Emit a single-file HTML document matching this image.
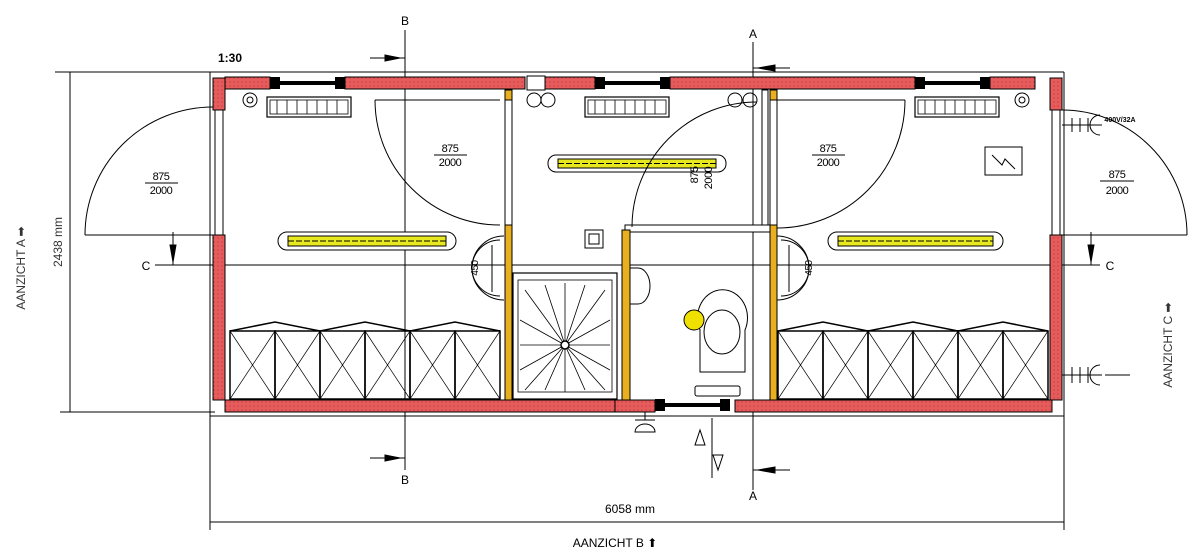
<!DOCTYPE html>
<html><head><meta charset="utf-8"><style>
html,body{margin:0;padding:0;background:#fff;}
svg{display:block;font-family:"Liberation Sans",sans-serif;}
</style></head><body>
<svg width="1200" height="558" viewBox="0 0 1200 558" xmlns="http://www.w3.org/2000/svg">
<defs>
<pattern id="dots" width="4" height="4" patternUnits="userSpaceOnUse">
<rect width="4" height="4" fill="#e65c5c"/><circle cx="2" cy="2" r="0.6" fill="#b33"/>
</pattern>
<g id="locker">
<rect x="0" y="0" width="45" height="68" fill="none" stroke="#000" stroke-width="1.5"/>
<line x1="0" y1="0" x2="45" y2="68" stroke="#000" stroke-width="0.7"/>
<line x1="45" y1="0" x2="0" y2="68" stroke="#000" stroke-width="0.7"/>
</g>
<g id="rad">
<rect x="0" y="0" width="84" height="20" fill="#fff" stroke="#000" stroke-width="1.2"/>
<rect x="3" y="3" width="78" height="14" fill="none" stroke="#000" stroke-width="0.8"/>
</g>
<g id="win">
<rect x="0" y="-1" width="10" height="12" fill="#000"/>
<rect x="65" y="-1" width="10" height="12" fill="#000"/>
<rect x="10" y="3" width="55" height="4" fill="#000"/>
</g>
</defs>
<g stroke="#000" fill="none" stroke-width="1">
<line x1="55" y1="72" x2="1064" y2="72"/>
<line x1="70" y1="72" x2="70" y2="412"/>
<line x1="60" y1="412" x2="215" y2="412"/>
<line x1="210" y1="412" x2="210" y2="530"/>
<line x1="1064" y1="72" x2="1064" y2="530"/>
<line x1="210" y1="522" x2="1064" y2="522"/>
<line x1="210" y1="416" x2="1064" y2="416"/>
<line x1="210" y1="72" x2="210" y2="416"/>
<line x1="405" y1="30" x2="405" y2="470"/>
<line x1="753" y1="42" x2="753" y2="490"/>
<line x1="155" y1="265" x2="1100" y2="265"/>
<line x1="370" y1="58" x2="405" y2="58"/><path d="M385,55 L400,58 L385,61Z" fill="#000"/>
<line x1="370" y1="458" x2="405" y2="458"/><path d="M385,455 L400,458 L385,461Z" fill="#000"/>
<line x1="753" y1="68" x2="790" y2="68"/><path d="M775,65 L758,68 L775,71Z" fill="#000"/>
<line x1="753" y1="470" x2="790" y2="470"/><path d="M775,467 L758,470 L775,473Z" fill="#000"/>
<line x1="173" y1="232" x2="173" y2="265"/><path d="M170,245 L173,262 L176,245Z" fill="#000"/>
<line x1="1091" y1="232" x2="1091" y2="265"/><path d="M1088,245 L1091,262 L1094,245Z" fill="#000"/>
</g>
<g stroke="#000" stroke-width="1">
<rect x="225" y="77" width="45" height="12" fill="url(#dots)"/>
<rect x="345" y="77" width="180" height="12" fill="url(#dots)"/>
<rect x="545" y="77" width="50" height="12" fill="url(#dots)"/>
<rect x="670" y="77" width="245" height="12" fill="url(#dots)"/>
<rect x="990" y="77" width="45" height="12" fill="url(#dots)"/>
<rect x="213" y="78" width="12" height="32" fill="url(#dots)"/>
<rect x="213" y="235" width="12" height="165" fill="url(#dots)"/>
<rect x="1050" y="78" width="12" height="32" fill="url(#dots)"/>
<rect x="1050" y="235" width="12" height="165" fill="url(#dots)"/>
<rect x="225" y="400" width="390" height="12" fill="url(#dots)"/>
<rect x="615" y="400" width="40" height="12" fill="url(#dots)"/>
<rect x="735" y="400" width="317" height="12" fill="url(#dots)"/>
</g>
<use href="#win" x="270" y="78"/><use href="#win" x="595" y="78"/><use href="#win" x="915" y="78"/>
<use href="#win" x="655" y="400"/>
<g fill="#fff" stroke="#000" stroke-width="1">
<rect x="215" y="110" width="8" height="125"/>
<rect x="1052" y="110" width="8" height="125"/>
<rect x="527" y="76" width="18" height="14"/>
<rect x="505" y="90" width="7" height="310"/>
<rect x="770" y="90" width="7" height="310"/>
<rect x="762" y="90" width="6" height="140"/>
<rect x="625" y="225" width="145" height="7"/>
<rect x="622" y="230" width="8" height="170" fill="#e8b020"/>
<rect x="505" y="225" width="7" height="175" fill="#e8b020"/>
<rect x="770" y="225" width="7" height="175" fill="#e8b020"/>
<rect x="505" y="90" width="7" height="10" fill="#e8b020"/>
<rect x="770" y="90" width="7" height="10" fill="#e8b020"/>
</g>
<use href="#rad" x="267" y="97"/><use href="#rad" x="585" y="97"/><use href="#rad" x="915" y="97"/>
<g stroke="#000" stroke-width="0.8">
<path d="M277,100v14M287,100v14M297,100v14M307,100v14M317,100v14M327,100v14M337,100v14M595,100v14M605,100v14M615,100v14M625,100v14M635,100v14M645,100v14M655,100v14M925,100v14M935,100v14M945,100v14M955,100v14M965,100v14M975,100v14M985,100v14"/>
</g>
<g stroke="#000" stroke-width="1">
<rect x="278" y="232" width="178" height="18" rx="9" fill="#fff"/>
<rect x="288" y="236" width="158" height="10" fill="#e8e820"/>
<rect x="548" y="155" width="178" height="17" rx="8" fill="#fff"/>
<rect x="558" y="159" width="158" height="9" fill="#e8e820"/>
<rect x="828" y="232" width="175" height="18" rx="9" fill="#fff"/>
<rect x="838" y="236" width="155" height="10" fill="#e8e820"/>
</g>
<g stroke="#000" stroke-width="1" stroke-dasharray="6,2">
<line x1="288" y1="241" x2="446" y2="241"/><line x1="558" y1="163.5" x2="716" y2="163.5"/><line x1="838" y1="241" x2="993" y2="241"/>
</g>
<g fill="none" stroke="#000" stroke-width="1">
<path d="M85,235 A128,128 0 0 1 213,107"/><line x1="85" y1="235" x2="213" y2="235"/>
<path d="M375,100 A125,125 0 0 0 500,225"/><line x1="375" y1="100" x2="500" y2="100"/>
<path d="M632,227 A125,125 0 0 1 757,102"/>
<path d="M905,100 A128,128 0 0 1 777,228"/><line x1="777" y1="100" x2="905" y2="100"/>
<path d="M1062,110 A125,125 0 0 1 1187,235"/><line x1="1062" y1="235" x2="1187" y2="235"/>
</g>
<use href="#locker" x="230" y="331"/><use href="#locker" x="275" y="331"/><use href="#locker" x="320" y="331"/><use href="#locker" x="365" y="331"/><use href="#locker" x="410" y="331"/><use href="#locker" x="455" y="331"/>
<use href="#locker" x="778" y="331"/><use href="#locker" x="823" y="331"/><use href="#locker" x="868" y="331"/><use href="#locker" x="913" y="331"/><use href="#locker" x="958" y="331"/><use href="#locker" x="1003" y="331"/>
<g fill="none" stroke="#000" stroke-width="1.5">
<path d="M230,331 L275,322 L320,331 L365,322 L410,331 L455,322 L500,331"/>
<path d="M778,331 L823,322 L868,331 L913,322 L958,331 L1003,322 L1048,331"/>
<rect x="513" y="273" width="104" height="126" stroke-width="1.2"/>
<rect x="518" y="280" width="94" height="112" stroke-width="0.8"/>
</g>
<g stroke="#000" stroke-width="0.8">
<path d="M565,345 L525,290 M565,345 L545,285 M565,345 L565,283 M565,345 L585,285 M565,345 L605,290 M565,345 L610,320 M565,345 L610,345 M565,345 L610,370 M565,345 L605,390 M565,345 L585,390 M565,345 L565,392 M565,345 L545,390 M565,345 L525,390 M565,345 L520,370 M565,345 L520,345 M565,345 L520,320"/>
</g>
<circle cx="565" cy="345" r="4" fill="#fff" stroke="#000" stroke-width="1.5"/>
<g fill="none" stroke="#000" stroke-width="1">
<path d="M700,372 L700,330 A25,28 0 1 1 745,330 L745,372 Z"/>
<ellipse cx="722" cy="332" rx="18" ry="22"/>
<rect x="695" y="386" width="45" height="10" rx="2"/>
<path d="M630,268 h8 a12,18 0 0 1 0,36 h-8 z"/>
<rect x="585" y="230" width="18" height="18"/><rect x="589" y="234" width="10" height="10"/>
<rect x="985" y="147" width="37" height="28"/>
<path d="M992,155 l10,10 l3,-6 l10,10"/>
<path d="M504,236 a32,32 0 0 0 0,64"/>
<path d="M500,240 a28,28 0 0 0 0,56"/>
<line x1="492" y1="245" x2="492" y2="292"/>
<path d="M777,236 a32,32 0 0 1 0,64"/>
<path d="M781,240 a28,28 0 0 1 0,56"/>
<line x1="789" y1="245" x2="789" y2="292"/>
<circle cx="250" cy="100" r="7"/><circle cx="250" cy="100" r="3"/>
<circle cx="534" cy="100" r="7"/><circle cx="548" cy="100" r="7"/>
<circle cx="735" cy="100" r="7"/><circle cx="750" cy="100" r="7"/>
<circle cx="1022" cy="100" r="7"/><circle cx="1022" cy="100" r="3"/>
<path d="M635,420 h20 M645,412 v8 M635,432 a10,8 0 0 1 20,0 z"/>
<path d="M1062,125 h40 M1072,118 v14 M1080,118 v14 M1088,118 v14 M1100,115 a10,10 0 0 0 0,20"/>
<path d="M1062,375 h40 M1072,367 v16 M1080,367 v16 M1088,367 v16 M1100,365 a10,10 0 0 0 0,20 M1105,375 h25"/>
<path d="M712,418 v60 M700,430 l-5,15 h10 z M718,470 l-5,-15 h10 z"/>
</g>
<circle cx="694" cy="320" r="10" fill="#f0e000" stroke="#000"/>
<g font-size="12" text-anchor="middle" fill="#000">
<text x="405" y="25">B</text><text x="405" y="484">B</text>
<text x="753" y="38">A</text><text x="753" y="500">A</text>
<text x="146" y="270">C</text><text x="1110" y="270">C</text>
<text x="630" y="513">6058 mm</text>
<text x="615" y="547">AANZICHT B ⬆</text>
<text x="230" y="62" font-weight="bold">1:30</text>
<text x="1120" y="122" font-size="7" font-weight="bold">400V/32A</text>
</g>
<g font-size="11" text-anchor="middle" fill="#000" letter-spacing="-0.5">
<text x="161" y="180">875</text><line x1="145" y1="183" x2="178" y2="183" stroke="#000"/><text x="161" y="194">2000</text>
<text x="450" y="152">875</text><line x1="434" y1="155" x2="467" y2="155" stroke="#000"/><text x="450" y="166">2000</text>
<text x="828" y="152">875</text><line x1="812" y1="155" x2="845" y2="155" stroke="#000"/><text x="828" y="166">2000</text>
<text x="1117" y="178">875</text><line x1="1100" y1="181" x2="1134" y2="181" stroke="#000"/><text x="1117" y="194">2000</text>
<text transform="translate(698,175) rotate(-90)">875</text>
<text transform="translate(712,178) rotate(-90)">2000</text>
<text transform="translate(478,268) rotate(-90)" font-size="10">450</text>
<text transform="translate(812,268) rotate(-90)" font-size="10">450</text>
</g>
<g font-size="12" text-anchor="middle" fill="#333">
<text transform="translate(62,242) rotate(-90)">2438 mm</text>
<text transform="translate(25,268) rotate(-90)">AANZICHT A ➡</text>
<text transform="translate(1172,345) rotate(-90)">AANZICHT C ➡</text>
</g>
</svg>
</body></html>
